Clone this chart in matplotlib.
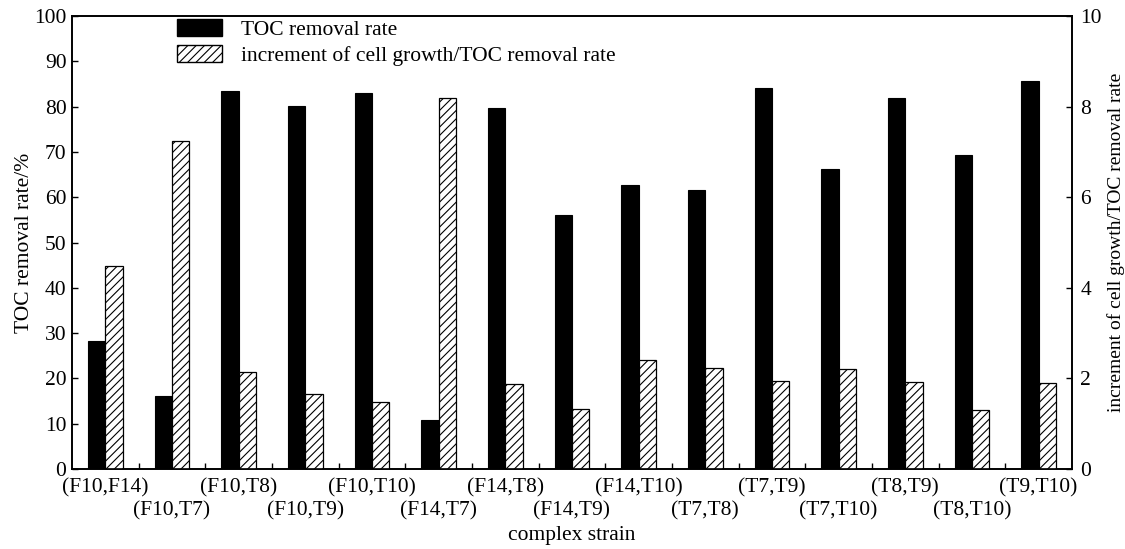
import numpy as np
import matplotlib
matplotlib.use("Agg")
import matplotlib.pyplot as plt
from matplotlib.patches import Patch

plt.rcParams['font.family'] = ['Liberation Serif', 'DejaVu Serif']
plt.rcParams['hatch.linewidth'] = 0.8

# data
strains = ["(F10,F14)", "(F10,T7)", "(F10,T8)", "(F10,T9)", "(F10,T10)",
           "(F14,T7)", "(F14,T8)", "(F14,T9)", "(F14,T10)", "(T7,T8)",
           "(T7,T9)", "(T7,T10)", "(T8,T9)", "(T8,T10)", "(T9,T10)"]
toc_removal = [28.3, 16.2, 83.4, 80.2, 82.9, 10.8, 79.7, 56.0, 62.6, 61.6,
               84.0, 66.3, 82.0, 69.3, 85.6]
growth_ratio = [4.48, 7.24, 2.15, 1.65, 1.48, 8.20, 1.88, 1.32, 2.41, 2.24,
                1.95, 2.21, 1.92, 1.30, 1.89]

x = np.arange(len(strains))
w = 0.26

fig = plt.figure(figsize=(11.25, 5.49), dpi=100)
ax = fig.add_axes([72 / 1125, 80 / 549, 1000 / 1125, 453 / 549])
ax2 = ax.twinx()

ax.bar(x - w / 2, toc_removal, width=w, color='black', edgecolor='black', linewidth=0.8)
ax2.bar(x + w / 2, growth_ratio, width=w, color='white', edgecolor='black',
        linewidth=0.9, hatch='////')

ax.set_xlim(-0.5, len(strains) - 0.5)
ax.set_ylim(0, 100)
ax2.set_ylim(0, 10)
ax.set_yticks(np.arange(0, 101, 10))
ax2.set_yticks(np.arange(0, 11, 2))

ax.set_xticks(x)
ax.set_xticklabels(strains, fontsize=15.5)
ax.tick_params(axis='x', length=0, pad=7)
# every second category label goes on a lower row
for t in ax.xaxis.get_major_ticks()[1::2]:
    t.set_pad(23)
ax.set_xticks(np.arange(0.5, len(strains) - 0.5, 1), minor=True)
ax.tick_params(axis='x', which='minor', direction='in', length=4, width=1)

ax.tick_params(axis='y', direction='in', length=4, width=1, labelsize=15.5, pad=4)
ax2.tick_params(axis='y', direction='in', length=4, width=1, labelsize=15.5, pad=6)

for sp in ax.spines.values():
    sp.set_linewidth(1.2)
for sp in ax2.spines.values():
    sp.set_linewidth(1.2)

ax.set_ylabel("TOC removal rate/%", fontsize=15.5, labelpad=0)
ax2.set_ylabel("increment of cell growth/TOC removal rate", fontsize=14, labelpad=4)
ax.set_xlabel("complex strain", fontsize=15.5, labelpad=4)

handles = [Patch(facecolor='black', edgecolor='black'),
           Patch(facecolor='white', edgecolor='black', hatch='////')]
ax2.legend(handles, ["TOC removal rate", "increment of cell growth/TOC removal rate"],
           loc='upper left', bbox_to_anchor=(0.105, 0.993), frameon=False,
           fontsize=15.5, handlelength=2.1, handleheight=0.85,
           handletextpad=0.85, labelspacing=0.2, borderpad=0, borderaxespad=0)

fig.savefig("out.png", dpi=100)
